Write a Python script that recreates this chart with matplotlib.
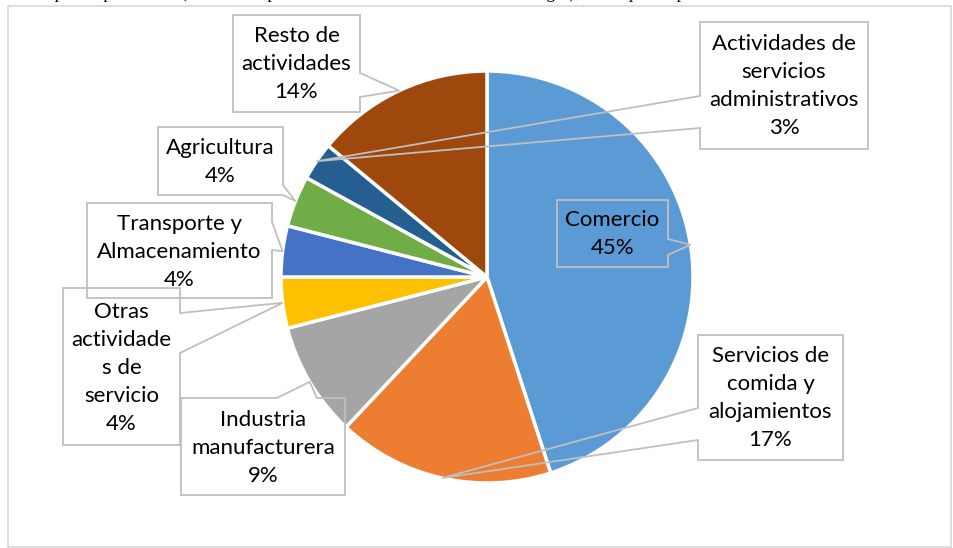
import matplotlib
matplotlib.use("Agg")
import matplotlib.pyplot as plt
from matplotlib.patches import Polygon, Rectangle
import numpy as np

# data, clockwise from 12 o'clock
categories = ["Comercio", "Servicios de comida y alojamientos", "Industria manufacturera",
              "Otras actividades de servicio", "Transporte y Almacenamiento", "Agricultura",
              "Actividades de servicios administrativos", "Resto de actividades"]
shares = [45, 17, 9, 4, 4, 4, 3, 14]
colors = ["#5B9BD5", "#ED7D31", "#A5A5A5", "#FFC000", "#4472C4", "#70AD47", "#255E91", "#9E480E"]

# label text as wrapped in the chart
label_lines = ["Comercio", "Servicios de\ncomida y\nalojamientos", "Industria\nmanufacturera",
               "Otras\nactividade\ns de\nservicio", "Transporte y\nAlmacenamiento", "Agricultura",
               "Actividades de\nservicios\nadministrativos", "Resto de\nactividades"]

# callout boxes in pixel coords: (x0, y0, x1, y1), side of pointer, pointer base
boxes = [
    ((557, 200, 668, 267), "right", (239, 255)),
    ((698, 335, 843, 460), "left", (408, 440)),
    ((181, 398, 345, 495), "top", (277, 317)),
    ((63, 288, 180, 445), "right", (313, 353)),
    ((87, 203, 272, 298), "right", (222, 250)),
    ((158, 127, 283, 195), "right", (185, 195)),
    ((700, 22, 868, 149), "left", (96, 128)),
    ((233, 15, 360, 112), "right", (73, 97)),
]

W, H = 954, 548
fig = plt.figure(figsize=(W / 100, H / 100), dpi=100)
ax = fig.add_axes([0, 0, 1, 1])

# y axis points down so everything is in pixel coordinates
wedges, _ = ax.pie(shares, colors=colors, center=(487, 277), radius=206,
                   startangle=-90, counterclock=True,
                   wedgeprops=dict(edgecolor="white", linewidth=2.5))
ax.set_xlim(0, W)
ax.set_ylim(H, 0)
ax.set_aspect("auto")
ax.axis("off")

# outer chart frame
ax.add_patch(Rectangle((8, 6), 943, 541, fill=False, edgecolor="#D9D9D9", lw=1.2))


def callout(box, side, base, tip):
    x0, y0, x1, y1 = box
    b0, b1 = base
    if side == "right":
        pts = [(x0, y0), (x1, y0), (x1, b0), tip, (x1, b1), (x1, y1), (x0, y1)]
    elif side == "left":
        pts = [(x0, y0), (x1, y0), (x1, y1), (x0, y1), (x0, b1), tip, (x0, b0)]
    else:  # top
        pts = [(x0, y0), (b0, y0), tip, (b1, y0), (x1, y0), (x1, y1), (x0, y1)]
    ax.add_patch(Polygon(pts, closed=True, fill=False, edgecolor="#BFBFBF", lw=1.3, zorder=4))


for w, (box, side, base), txt, v in zip(wedges, boxes, label_lines, shares):
    mid = np.deg2rad((w.theta1 + w.theta2) / 2)
    tip = (w.center[0] + w.r * np.cos(mid), w.center[1] + w.r * np.sin(mid))
    callout(box, side, base, tip)
    cx = (box[0] + box[2]) / 2
    cy = (box[1] + box[3]) / 2
    ax.text(cx, cy + 1, f"{txt}\n{v}%", ha="center", va="center", fontsize=16,
            family="Lato", linespacing=1.5, color="black", zorder=5)

# cut-off line of the surrounding document text (only descenders show)
ax.text(-8, -1.5, "forma el patrón porcentual (Sección empresarial Cámara de Comercio de Rionegro), "
        "las empresas por actividad económica son", ha="left", va="baseline",
        fontsize=12.5, family="Liberation Serif", clip_on=False)

fig.savefig("out.png", dpi=100)
